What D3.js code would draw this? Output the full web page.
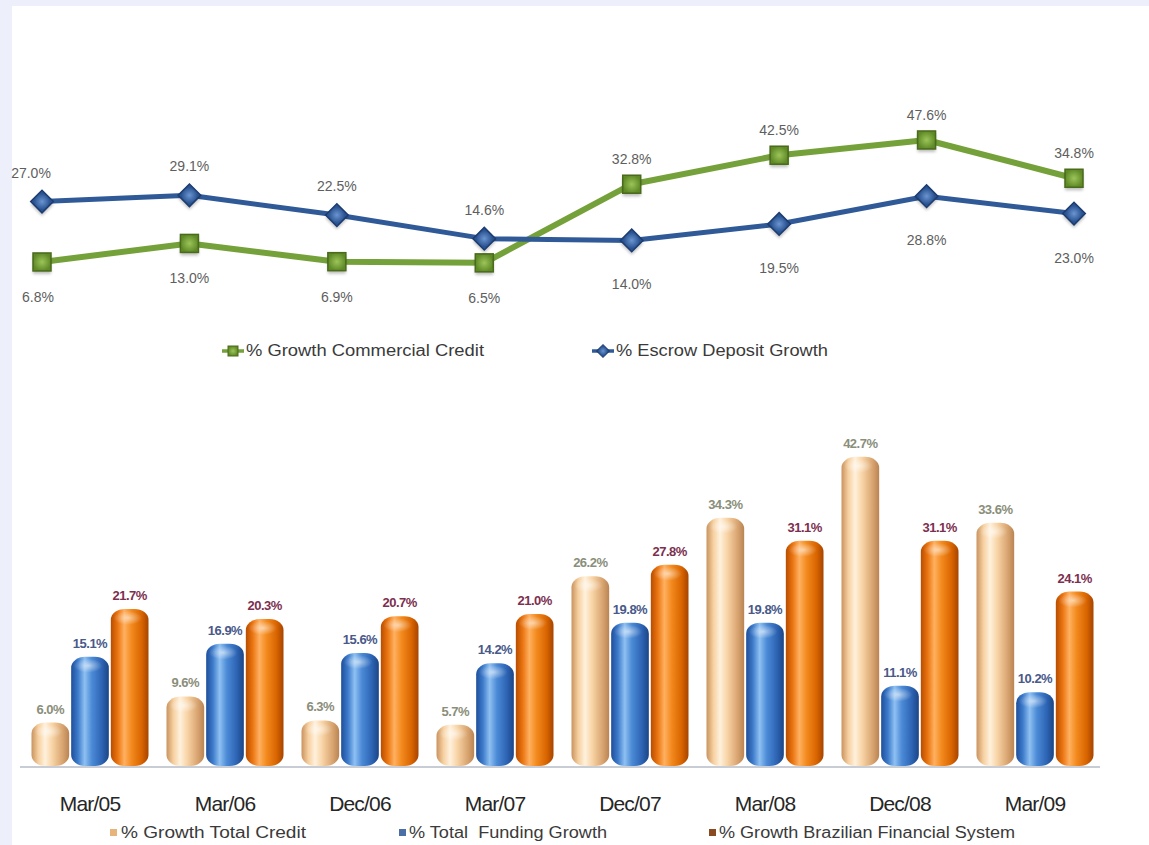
<!DOCTYPE html>
<html>
<head>
<meta charset="utf-8">
<script src="https://cdn.jsdelivr.net/npm/d3@7"></script>
<style>
  html, body { margin: 0; padding: 0; background: #edf0fa; }
  svg { display: block; }
  text { font-family: "Liberation Sans", Arial, sans-serif; }
</style>
</head>
<body>
<script>
// Quarter / year-end periods shared by both charts
const categories = ["Mar/05", "Mar/06", "Dec/06", "Mar/07", "Dec/07", "Mar/08", "Dec/08", "Mar/09"];

// Line chart series (%)
const commercialCredit = [6.8, 13.0, 6.9, 6.5, 32.8, 42.5, 47.6, 34.8];
const escrowDeposit    = [27.0, 29.1, 22.5, 14.6, 14.0, 19.5, 28.8, 23.0];
const lineSeriesNames  = ["% Growth Commercial Credit", "% Escrow Deposit Growth"];

// Bar chart series (%)
const totalCredit     = [6.0, 9.6, 6.3, 5.7, 26.2, 34.3, 42.7, 33.6];
const totalFunding    = [15.1, 16.9, 15.6, 14.2, 19.8, 19.8, 11.1, 10.2];
const brazilianSystem = [21.7, 20.3, 20.7, 21.0, 27.8, 31.1, 31.1, 24.1];
const barSeriesNames  = ["% Growth Total Credit", "% Total  Funding Growth", "% Growth Brazilian Financial System"];

const W = 1149, H = 845;
const fmt = v => d3.format(".1f")(v) + "%";

const svg = d3.select("body").append("svg").attr("width", W).attr("height", H);
const defs = svg.append("defs");

// Page frame
svg.append("rect").attr("width", W).attr("height", H).attr("fill", "#edf0fa");
svg.append("rect").attr("x", 12).attr("y", 6).attr("width", W - 12).attr("height", H - 6).attr("fill", "#ffffff");

/* ---------------- Line chart ---------------- */
const xLine = d3.scalePoint().domain(categories).range([42, 1074]);
const yLine = d3.scaleLinear().domain([0, 50]).range([282.3, 132.8]);

const greenGrad = defs.append("radialGradient").attr("id", "gMark");
greenGrad.append("stop").attr("offset", "0%").attr("stop-color", "#9cc45a");
greenGrad.append("stop").attr("offset", "100%").attr("stop-color", "#5f8a26");
const blueGrad = defs.append("radialGradient").attr("id", "bMark");
blueGrad.append("stop").attr("offset", "0%").attr("stop-color", "#6b95d0");
blueGrad.append("stop").attr("offset", "100%").attr("stop-color", "#2a5392");

const shadow = defs.append("filter").attr("id", "soft").attr("x", "-50%").attr("y", "-50%").attr("width", "200%").attr("height", "200%");
shadow.append("feGaussianBlur").attr("stdDeviation", 1.6);

const lineGen = d3.line().x((d, i) => xLine(categories[i])).y(d => yLine(d));

const lineSeries = [
  { name: lineSeriesNames[0], values: commercialCredit, color: "#75a13a", width: 6, marker: "square", below: 40, above: -20, firstShift: -4 },
  { name: lineSeriesNames[1], values: escrowDeposit, color: "#2f5a97", width: 5, marker: "diamond", below: 49, above: -24, firstShift: -11 }
];

const lineG = svg.append("g");
lineSeries.forEach(s => {
  lineG.append("path").attr("d", lineGen(s.values)).attr("fill", "none")
    .attr("stroke", s.color).attr("stroke-width", s.width).attr("stroke-linejoin", "round");
});

// Markers
lineSeries.forEach(s => {
  const g = lineG.append("g");
  s.values.forEach((v, i) => {
    const cx = xLine(categories[i]), cy = yLine(v);
    if (s.marker === "square") {
      g.append("rect").attr("x", cx - 9).attr("y", cy - 6).attr("width", 18).attr("height", 18)
        .attr("fill", "#000").attr("opacity", 0.25).attr("filter", "url(#soft)");
      g.append("rect").attr("x", cx - 9).attr("y", cy - 9).attr("width", 18).attr("height", 18)
        .attr("fill", "url(#gMark)").attr("stroke", "#4a6a1c").attr("stroke-width", 1.5);
    } else {
      g.append("rect").attr("x", -8).attr("y", -8).attr("width", 16).attr("height", 16)
        .attr("transform", `translate(${cx},${cy + 3}) rotate(45)`)
        .attr("fill", "#000").attr("opacity", 0.25).attr("filter", "url(#soft)");
      g.append("rect").attr("x", -8).attr("y", -8).attr("width", 16).attr("height", 16)
        .attr("transform", `translate(${cx},${cy}) rotate(45)`)
        .attr("fill", "url(#bMark)").attr("stroke", "#1d3c70").attr("stroke-width", 1.5);
    }
  });
});

// Value labels: the higher series at each period is labelled above, the lower below
const lblG = svg.append("g").attr("font-size", 14).attr("fill", "#5e5e5e").attr("text-anchor", "middle");
categories.forEach((c, i) => {
  const a = commercialCredit[i], b = escrowDeposit[i];
  [[lineSeries[0], a, a >= b], [lineSeries[1], b, b > a]].forEach(([s, v, above]) => {
    lblG.append("text")
      .attr("x", xLine(c) + (i === 0 ? s.firstShift : 0))
      .attr("y", yLine(v) + (above ? s.above : s.below))
      .text(fmt(v));
  });
});

// Line legend
const lLeg = svg.append("g").attr("font-size", 16).attr("fill", "#3a3a3a");
[[222, 246, 238], [592, 616, 212]].forEach(([mx, tx, tl], k) => {
  const s = lineSeries[k];
  lLeg.append("line").attr("x1", mx).attr("x2", mx + 22).attr("y1", 351).attr("y2", 351)
    .attr("stroke", s.color).attr("stroke-width", 3.5);
  if (s.marker === "square") {
    lLeg.append("rect").attr("x", mx + 6).attr("y", 346).attr("width", 10).attr("height", 10)
      .attr("fill", "url(#gMark)").attr("stroke", "#4a6a1c");
  } else {
    lLeg.append("rect").attr("x", -4.5).attr("y", -4.5).attr("width", 9).attr("height", 9)
      .attr("transform", `translate(${mx + 11},351) rotate(45)`).attr("fill", "url(#bMark)").attr("stroke", "#1d3c70");
  }
  lLeg.append("text").attr("x", tx).attr("y", 356).attr("textLength", tl)
    .attr("lengthAdjust", "spacingAndGlyphs").text(s.name);
});

/* ---------------- Bar chart ---------------- */
const xBar = d3.scaleBand().domain(categories).range([22.5, 1102.5]);
const barKeys = ["credit", "funding", "system"];
const xInner = d3.scaleBand().domain(barKeys).range([-58.5, 58.5]).paddingInner(0.05);
const yBar = d3.scaleLinear().domain([0, 45]).range([766, 440.2]);

const barSeries = [
  { key: "credit",  name: barSeriesNames[0], values: totalCredit,
    stops: ["#c9935f", "#f6cf9f", "#fff1dd", "#f8d4a6", "#d9a571", "#b98452"], label: "#8a8e7a", legend: "#e7b47a" },
  { key: "funding", name: barSeriesNames[1], values: totalFunding,
    stops: ["#1f4f9a", "#3d7bcb", "#8ec0f2", "#4b8ad6", "#2c63b2", "#1c4585"], label: "#48598a", legend: "#4a6ea6" },
  { key: "system",  name: barSeriesNames[2], values: brazilianSystem,
    stops: ["#b84d00", "#ea7410", "#ffb060", "#f38a1e", "#d86400", "#a64400"], label: "#7c2f4f", legend: "#8a4a1f" }
];

barSeries.forEach(s => {
  const g = defs.append("linearGradient").attr("id", "grad-" + s.key).attr("x1", "0%").attr("x2", "100%");
  [0, 0.18, 0.36, 0.55, 0.82, 1].forEach((o, k) => g.append("stop").attr("offset", o).attr("stop-color", s.stops[k]));
});
const topGlow = defs.append("radialGradient").attr("id", "topGlow");
topGlow.append("stop").attr("offset", "0%").attr("stop-color", "#fff").attr("stop-opacity", 0.55);
topGlow.append("stop").attr("offset", "100%").attr("stop-color", "#fff").attr("stop-opacity", 0);

// Baseline
svg.append("line").attr("x1", 20).attr("x2", 1100).attr("y1", 767).attr("y2", 767)
  .attr("stroke", "#c8ccd4").attr("stroke-width", 2);

const bw = xInner.bandwidth();
const barG = svg.append("g");
barSeries.forEach(s => {
  s.values.forEach((v, i) => {
    const x0 = xBar(categories[i]) + xBar.bandwidth() / 2 + xInner(s.key);
    const top = yBar(v);
    barG.append("rect").attr("x", x0).attr("y", top).attr("width", bw).attr("height", yBar(0) - top)
      .attr("rx", 14).attr("ry", 11).attr("fill", `url(#grad-${s.key})`);
    barG.append("ellipse").attr("cx", x0 + bw * 0.45).attr("cy", top + 9).attr("rx", bw * 0.38).attr("ry", 7)
      .attr("fill", "url(#topGlow)");
    barG.append("text").attr("x", x0 + bw / 2).attr("y", top - 9).attr("text-anchor", "middle")
      .attr("font-size", 13).attr("font-weight", "bold").attr("fill", s.label).attr("letter-spacing", -0.5)
      .text(fmt(v));
  });
});

// Category axis
const xAxis = svg.append("g").attr("transform", "translate(0,767)")
  .call(d3.axisBottom(xBar).tickSize(0).tickPadding(29));
xAxis.select(".domain").remove();
xAxis.selectAll("text").attr("font-size", 21).attr("fill", "#262626")
  .attr("font-family", "'Liberation Sans', Arial, sans-serif").attr("letter-spacing", -0.8);

// Bar legend
const bLeg = svg.append("g").attr("font-size", 16).attr("fill", "#3a3a3a");
[[110, 121, 185], [399, 409, 198], [709, 719, 296]].forEach(([mx, tx, tl], k) => {
  const s = barSeries[k];
  bLeg.append("rect").attr("x", mx).attr("y", 829).attr("width", 7).attr("height", 7).attr("fill", s.legend);
  bLeg.append("text").attr("x", tx).attr("y", 838).attr("textLength", tl)
    .attr("lengthAdjust", "spacingAndGlyphs").style("white-space", "pre").text(s.name);
});
</script>
</body>
</html>
